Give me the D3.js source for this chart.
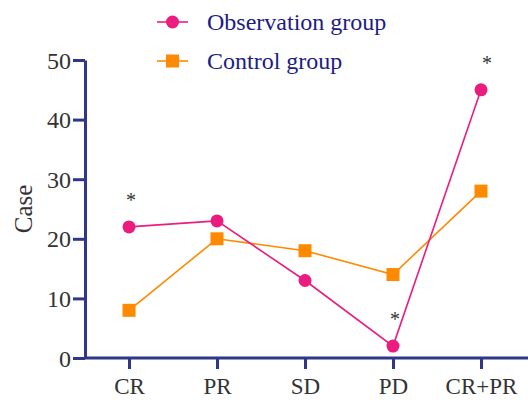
<!DOCTYPE html>
<html><head><meta charset="utf-8">
<script src="https://cdn.jsdelivr.net/npm/d3@7"></script>
<style>body{margin:0;background:#fff}svg{display:block}</style>
</head><body>
<svg id="c" width="528" height="400"></svg>
<script>
const categories = ["CR","PR","SD","PD","CR+PR"];
const observation = [22,23,13,2,45];
const control = [8,20,18,14,28];
const yTicks = [0,10,20,30,40,50];
const starsAt = ["CR","PD","CR+PR"];

const svg = d3.select("#c");
const font = "'Liberation Serif','Times New Roman',serif";
const axisColor = "#2e3788";
const pink = "#ec1c7e", orange = "#ff8a00";

const x = d3.scalePoint().domain(categories).range([129,481]);
const y = d3.scaleLinear().domain([0,50]).range([358,60]);

// axes
const yAxis = svg.append("g").attr("transform","translate(85,0)")
  .call(d3.axisLeft(y).tickValues(yTicks).tickSize(12).tickSizeOuter(0).tickPadding(2));
const xAxis = svg.append("g").attr("transform","translate(0,358)")
  .call(d3.axisBottom(x).tickSize(11).tickSizeOuter(0).tickPadding(8));
xAxis.select(".domain").attr("d","M85,0H528");
[yAxis,xAxis].forEach(g=>{
  g.attr("font-size",null).attr("font-family",null);
  g.selectAll(".domain").attr("stroke",axisColor).attr("stroke-width",3);
  g.selectAll(".tick line").attr("stroke",axisColor).attr("stroke-width",3);
  g.selectAll(".tick text").attr("fill","#333").style("font-family",font).style("font-size","24px");
});
xAxis.selectAll(".tick text").attr("y",35.5).attr("dy",0).style("font-size","23px");
yAxis.selectAll(".tick text").attr("dy","0.34em");

svg.append("text").attr("transform","translate(32,209) rotate(-90)")
  .attr("text-anchor","middle").attr("fill","#333")
  .style("font-family",font).style("font-size","25px").text("Case");

const line = d3.line().x((d,i)=>x(categories[i])).y(d=>y(d));

svg.append("path").datum(control).attr("d",line).attr("fill","none").attr("stroke",orange).attr("stroke-width",1.6);
svg.append("path").datum(observation).attr("d",line).attr("fill","none").attr("stroke",pink).attr("stroke-width",1.6);

svg.selectAll(".sq").data(control).join("rect")
  .attr("x",(d,i)=>x(categories[i])-6.5).attr("y",d=>y(d)-6.5)
  .attr("width",13).attr("height",13).attr("fill",orange);
svg.selectAll(".ci").data(observation).join("circle")
  .attr("cx",(d,i)=>x(categories[i])).attr("cy",d=>y(d)).attr("r",6.5).attr("fill",pink);

// significance stars
svg.selectAll(".star").data(starsAt).join("text")
  .attr("x",d=>x(d)+ (d==="CR+PR"?6:2))
  .attr("y",d=>{const i=categories.indexOf(d);return y(observation[i])-20;})
  .attr("text-anchor","middle").attr("fill","#333")
  .style("font-family",font).style("font-size","20px").text("*");

// legend
const leg = svg.append("g");
const items = [{name:"Observation group",c:pink,shape:"circle",y:22},{name:"Control group",c:orange,shape:"rect",y:61}];
items.forEach(it=>{
  leg.append("line").attr("x1",157).attr("x2",188).attr("y1",it.y).attr("y2",it.y).attr("stroke",it.c).attr("stroke-width",1.6);
  if(it.shape==="circle") leg.append("circle").attr("cx",172.5).attr("cy",it.y).attr("r",6.5).attr("fill",it.c);
  else leg.append("rect").attr("x",166).attr("y",it.y-6.5).attr("width",13).attr("height",13).attr("fill",it.c);
  leg.append("text").attr("x",207).attr("y",it.y).attr("dy","0.33em").attr("fill","#1c1c84")
    .style("font-family",font).style("font-size","24px").text(it.name);
});
</script>
</body></html>
